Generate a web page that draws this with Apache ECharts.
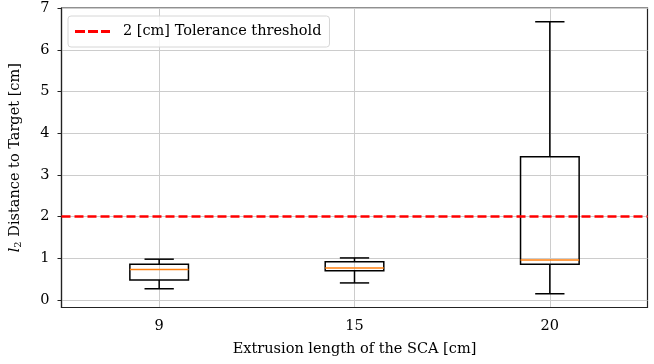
<!DOCTYPE html>
<html>
<head>
<meta charset="utf-8">
<script src="https://cdn.jsdelivr.net/npm/echarts@6/dist/echarts.min.js"></script>
<style>
  html, body { margin: 0; padding: 0; background: #fff; }
  #chart { width: 654px; height: 364px; }
</style>
</head>
<body>
<div id="chart"></div>
<script>
// 箱线图数据
const categories = ['9', '15', '20'];
const whiskerLow = [0.27, 0.41, 0.15];
const q1 = [0.48, 0.70, 0.86];
const median = [0.73, 0.77, 0.96];
const q3 = [0.86, 0.92, 3.44];
const whiskerHigh = [0.98, 1.01, 6.68];
const threshold = 2;
const thresholdName = '2 [cm] Tolerance threshold';

const font = 'DejaVu Serif';
const fontSize = 14.5;

let boxData = categories.map(function (c, i) {
    return [i, whiskerLow[i], q1[i], median[i], q3[i], whiskerHigh[i]];
});

function renderBox(params, api) {
    let idx = api.value(0);
    let band = api.size([1, 0])[0];
    let boxW = band * 0.3;
    let capW = band * 0.15;
    let pLow = api.coord([idx, api.value(1)]);
    let pQ1 = api.coord([idx, api.value(2)]);
    let pMed = api.coord([idx, api.value(3)]);
    let pQ3 = api.coord([idx, api.value(4)]);
    let pHigh = api.coord([idx, api.value(5)]);
    let x = pLow[0];
    let black = { stroke: '#000', lineWidth: 1.5, fill: null };
    return {
        type: 'group',
        children: [
            { type: 'line', shape: { x1: x, y1: pLow[1], x2: x, y2: pQ1[1] }, style: black },
            { type: 'line', shape: { x1: x, y1: pQ3[1], x2: x, y2: pHigh[1] }, style: black },
            { type: 'line', shape: { x1: x - capW / 2, y1: pLow[1], x2: x + capW / 2, y2: pLow[1] }, style: black },
            { type: 'line', shape: { x1: x - capW / 2, y1: pHigh[1], x2: x + capW / 2, y2: pHigh[1] }, style: black },
            { type: 'rect', shape: { x: x - boxW / 2, y: pQ3[1], width: boxW, height: pQ1[1] - pQ3[1] }, style: black },
            { type: 'line', shape: { x1: x - boxW / 2, y1: pMed[1], x2: x + boxW / 2, y2: pMed[1] }, style: { stroke: '#ff7f0e', lineWidth: 1.5 } }
        ]
    };
}

let myChart = echarts.init(document.getElementById('chart'));
myChart.setOption({
    animation: false,
    textStyle: { fontFamily: font },
    grid: {
        left: 60,
        right: 6.5,
        top: 8,
        bottom: 56.5,
        show: true,
        borderColor: '#222',
        borderWidth: 1.2,
        backgroundColor: 'transparent'
    },
    legend: {
        left: 68,
        top: 16,
        padding: [8, 8, 8, 7],
        backgroundColor: 'rgba(255,255,255,0.8)',
        borderColor: '#d6d6d6',
        borderWidth: 1,
        borderRadius: 3,
        itemWidth: 35,
        itemHeight: 3,
        icon: 'path://M0,0H10V3H0Z M13,0H23V3H13Z M26,0H35V3H26Z',
        textStyle: { fontFamily: font, fontSize: fontSize, color: '#000', padding: [0, 0, 0, 8] },
        data: [thresholdName]
    },
    xAxis: {
        type: 'category',
        data: categories,
        name: 'Extrusion length of the SCA [cm]',
        nameLocation: 'middle',
        nameGap: 34,
        nameTextStyle: { fontFamily: font, fontSize: fontSize, color: '#000' },
        axisLine: { onZero: false, lineStyle: { color: '#222', width: 1.2 } },
        axisTick: { alignWithLabel: true, length: 4, lineStyle: { color: '#222' } },
        axisLabel: { fontFamily: font, fontSize: fontSize, color: '#000', margin: 11 },
        splitLine: { show: true, alignWithLabel: true, lineStyle: { color: '#cccccc', width: 1 } }
    },
    yAxis: {
        type: 'value',
        min: -0.18,
        max: 7.01,
        minInterval: 1,
        maxInterval: 1,
        splitNumber: 7,
        name: '{i|l}{sub|2} Distance to Target [cm]',
        nameLocation: 'middle',
        nameGap: 38,
        nameTextStyle: {
            fontFamily: font, fontSize: fontSize, color: '#000',
            rich: {
                i: { fontFamily: font, fontStyle: 'italic', fontSize: fontSize },
                sub: { fontFamily: font, fontSize: 10, verticalAlign: 'bottom', padding: [6, 0, 0, 0] }
            }
        },
        axisLine: { show: true, lineStyle: { color: '#222', width: 1.2 } },
        axisTick: { show: true, length: 4, lineStyle: { color: '#222' } },
        axisLabel: { fontFamily: font, fontSize: fontSize, color: '#000', margin: 12, showMinLabel: false, showMaxLabel: false },
        splitLine: { show: true, lineStyle: { color: '#cccccc', width: 1 } }
    },
    series: [
        {
            name: 'boxes',
            type: 'custom',
            renderItem: renderBox,
            encode: { x: 0, y: [1, 2, 3, 4, 5] },
            data: boxData,
            z: 3
        },
        {
            name: thresholdName,
            type: 'line',
            color: '#ff0000',
            data: [],
            markLine: {
                silent: true,
                symbol: 'none',
                label: { show: false },
                lineStyle: { color: '#ff0000', width: 2.5, type: [9, 4] },
                data: [{ yAxis: threshold }]
            },
            z: 4
        }
    ]
});
</script>
</body>
</html>
